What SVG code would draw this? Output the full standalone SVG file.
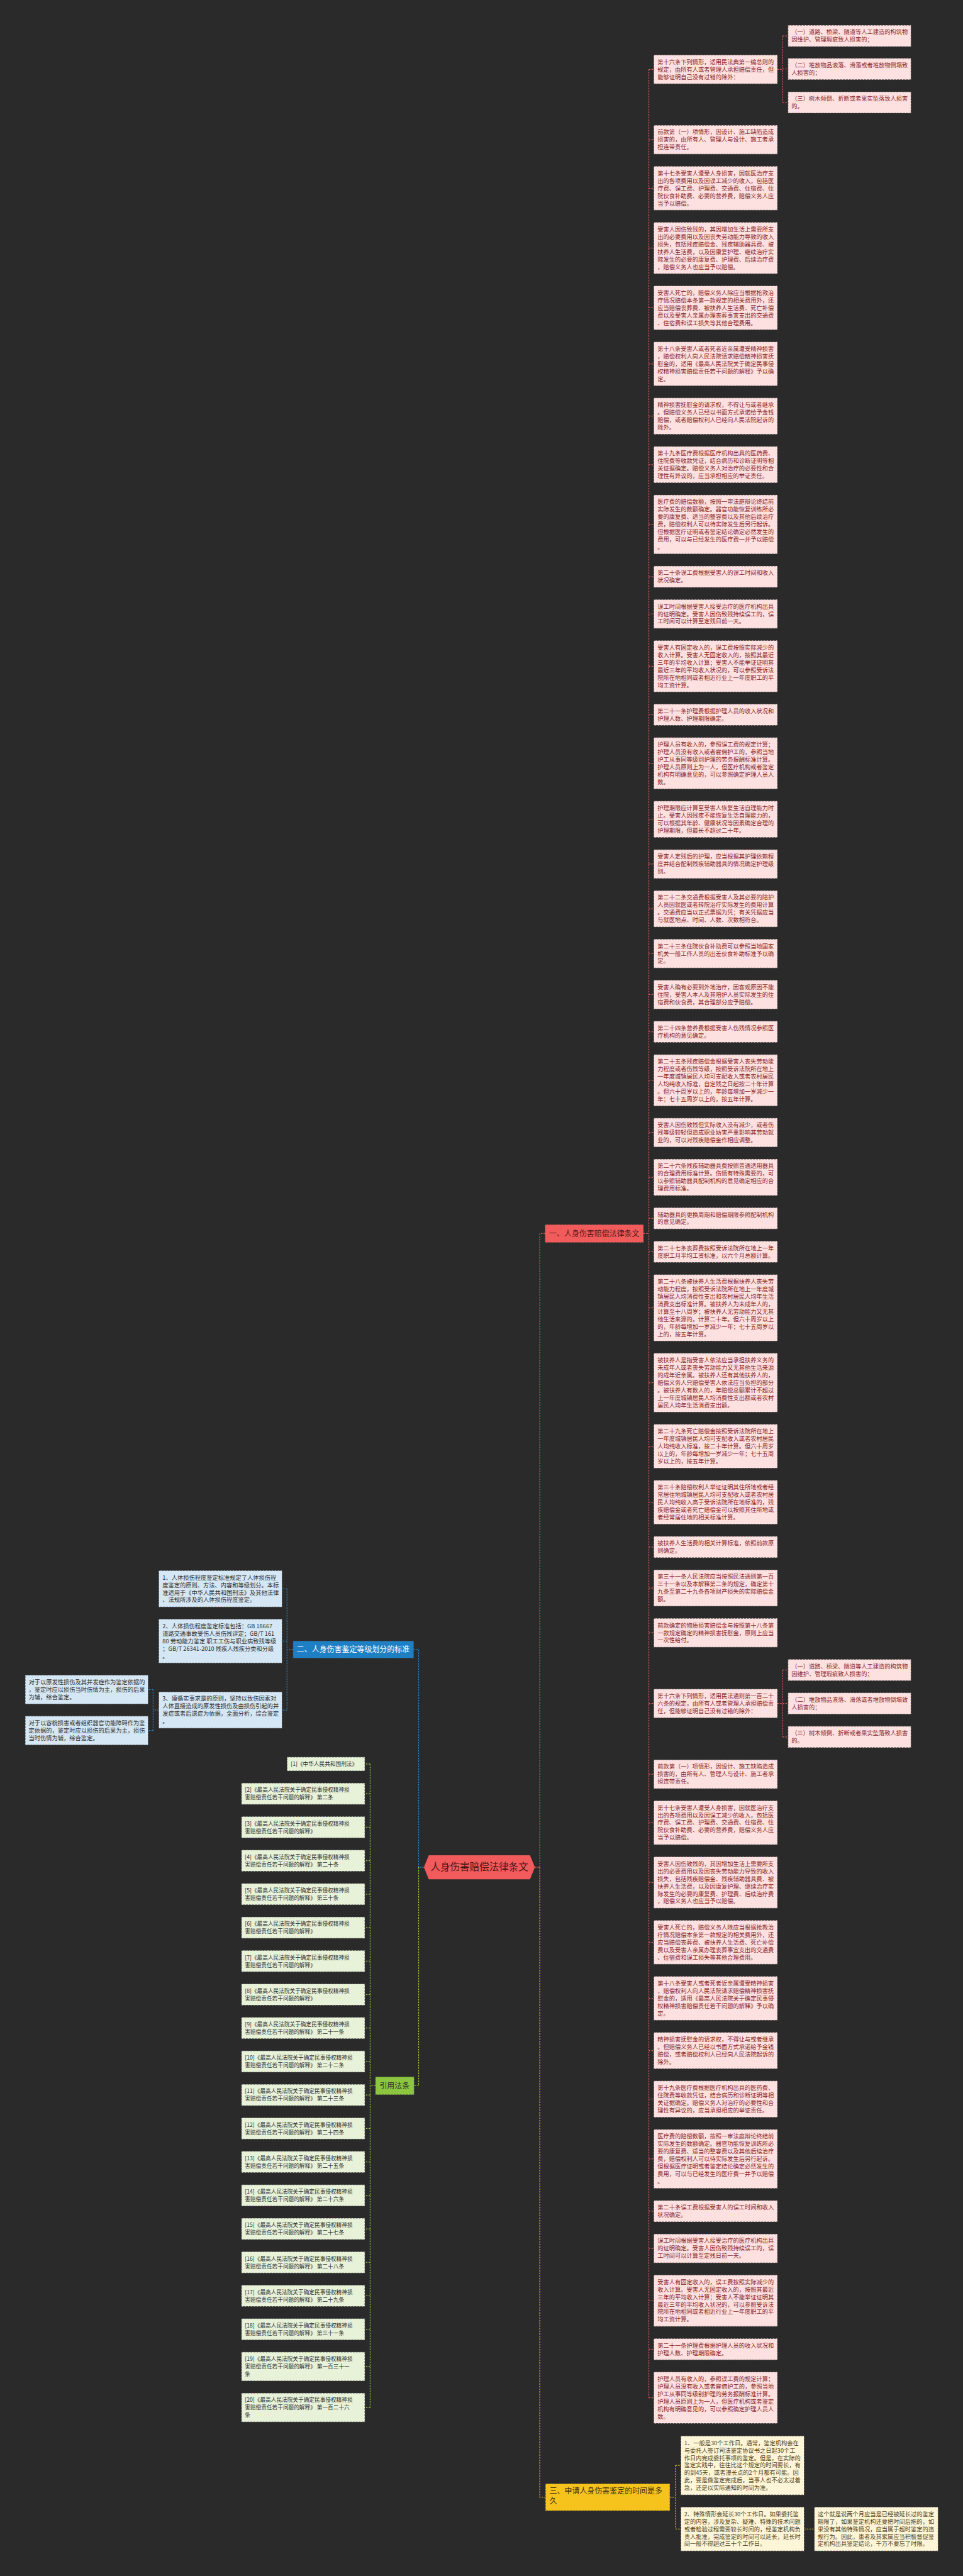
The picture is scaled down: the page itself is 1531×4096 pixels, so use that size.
<svg xmlns="http://www.w3.org/2000/svg" width="1531" height="4096" viewBox="0 0 1531 4096">
<style>
.t{font-family:"Noto Sans CJK SC","Noto Sans",sans-serif}
.bp{fill:#fde1e1;stroke:#3a3a3a;stroke-width:1.5;stroke-dasharray:5 3}
.bb{fill:#d5e7f4;stroke:#3a3a3a;stroke-width:1.5;stroke-dasharray:5 3}
.bg{fill:#e7f2d9;stroke:#3a3a3a;stroke-width:1.5;stroke-dasharray:5 3}
.by{fill:#fdf5d7;stroke:#3a3a3a;stroke-width:1.5;stroke-dasharray:5 3}
.tp{font-size:15.5px;fill:#8a1f1f}
.tb{font-size:15.5px;fill:#2e2e2e}
.tg{font-size:14.5px;fill:#2e2e2e}
.ty{font-size:15.5px;fill:#4e4220}
.c{fill:none;stroke-width:2;stroke-dasharray:4 3}
.cr{stroke:#e05b5b}
.cb{stroke:#2a86c6}
.cg{stroke:#9acd32}
.cy{stroke:#e8c22a}
</style>
<rect x="0" y="0" width="1531" height="4096" fill="#2a2a2a"/>
<g transform="scale(0.598)">
<g id="connectors">
<path class="c cr" d="M1422 4965H1435V3280H1449M1711 3280H1725M1725 184.5V6375.5"/>
<path class="c cr" d="M1725 184.5H1738M1725 371.5H1738M1725 500.5H1738M1725 659.5H1738M1725 818.5H1738M1725 967.5H1738M1725 1106.5H1738M1725 1235.5H1738M1725 1394.5H1738M1725 1533.5H1738M1725 1632.5H1738M1725 1771.5H1738M1725 1900.5H1738M1725 2029.5H1738M1725 2178.5H1738M1725 2297.5H1738M1725 2416.5H1738M1725 2535.5H1738M1725 2644.5H1738M1725 2743.5H1738M1725 2872.5H1738M1725 3011.5H1738M1725 3130.5H1738M1725 3239.5H1738M1725 3328.5H1738M1725 3477.5H1738M1725 3676.5H1738M1725 3845.5H1738M1725 3994.5H1738M1725 4113.5H1738M1725 4222.5H1738M1725 4341.5H1738M1725 4529.5H1738M1725 4717.5H1738M1725 4846.5H1738M1725 5005.5H1738M1725 5164.5H1738M1725 5313.5H1738M1725 5452.5H1738M1725 5581.5H1738M1725 5740.5H1738M1725 5879.5H1738M1725 5978.5H1738M1725 6117.5H1738M1725 6246.5H1738M1725 6375.5H1738"/>
<path class="c cr" d="M2067 184.5H2081M2081 95.5V272.5M2081 95.5H2095M2081 183.5H2095M2081 272.5H2095"/>
<path class="c cr" d="M2067 4529.5H2081M2081 4440.5V4618.5M2081 4440.5H2095M2081 4529.5H2095M2081 4618.5H2095"/>
<path class="c cb" d="M1127 4965H1113V4386H1100M779 4386H763M763 4224.5V4547M763 4224.5H750M763 4363.5H750M763 4547H750M422 4547H407M407 4492.5V4601.5M407 4492.5H394M407 4601.5H394"/>
<path class="c cg" d="M1113 4965V5546H1101M998 5546H984M984 4690.5V6401.5M984 4690.5H970M984 4769.5H970M984 4858.5H970M984 4947.5H970M984 5036.5H970M984 5125.5H970M984 5214.5H970M984 5303.5H970M984 5392.5H970M984 5481.5H970M984 5570.5H970M984 5659.5H970M984 5748.5H970M984 5837.5H970M984 5926.5H970M984 6015.5H970M984 6104.5H970M984 6193.5H970M984 6292.5H970M984 6401.5H970"/>
<path class="c cy" d="M1435 4965V6640H1450M1781 6640H1796M1796 6555.5V6724.5M1796 6555.5H1810M1796 6724.5H1810M2138 6724.5H2165"/>
</g>

<g id="root"><polygon points="1127,4965 1140,4933 1409,4933 1422,4965 1409,4997 1140,4997" fill="#f25b5b"/><text class="t" x="1274.5" y="4974" text-anchor="middle" font-size="26" fill="#4e1515">人身伤害赔偿法律条文</text></g>

<g id="b1"><rect x="1449" y="3256" width="262" height="48" fill="#f25b5b" stroke="#3a3a3a" stroke-width="1.5" stroke-dasharray="5 3"/><text class="t" x="1460" y="3287" font-size="20" fill="#4e1515">一、人身伤害赔偿法律条文</text></g>
<g id="b2"><rect x="779" y="4363" width="321" height="46" fill="#1f7fc4" stroke="#3a3a3a" stroke-width="1.5" stroke-dasharray="5 3"/><text class="t" x="789" y="4393" font-size="20" fill="#ffffff">二、人身伤害鉴定等级划分的标准</text></g>
<g id="b3"><rect x="998" y="5522" width="103" height="48" fill="#8cc63f" stroke="#3a3a3a" stroke-width="1.5" stroke-dasharray="5 3"/><text class="t" x="1009" y="5553" font-size="20" fill="#2e2e2e">引用法条</text></g>
<g id="b4"><rect x="1450" y="6604" width="331" height="72" fill="#f6c21c" stroke="#3a3a3a" stroke-width="1.5" stroke-dasharray="5 3"/><text class="t" font-size="20" fill="#3a3010" y="6631"><tspan x="1461">三、申请人身伤害鉴定的时间是多</tspan><tspan x="1461" dy="27">久</tspan></text></g>

<g id="a01"><rect class="bp" x="1738" y="146" width="329" height="77"/><text class="t tp" y="170"><tspan x="1748">第十六条下列情形，适用民法典第一编总则的</tspan><tspan x="1748" dy="20">规定，由所有人或者管理人承担赔偿责任，但</tspan><tspan x="1748" dy="20">能够证明自己没有过错的除外：</tspan></text></g>
<g id="a01s1"><rect class="bp" x="2095" y="67" width="327" height="57"/><text class="t tp" y="91"><tspan x="2104">（一）道路、桥梁、隧道等人工建造的构筑物</tspan><tspan x="2104" dy="20">因维护、管理瑕疵致人损害的；</tspan></text></g>
<g id="a01s2"><rect class="bp" x="2095" y="155" width="327" height="57"/><text class="t tp" y="179"><tspan x="2104">（二）堆放物品滚落、滑落或者堆放物倒塌致</tspan><tspan x="2104" dy="20">人损害的；</tspan></text></g>
<g id="a01s3"><rect class="bp" x="2095" y="244" width="327" height="57"/><text class="t tp" y="268"><tspan x="2104">（三）树木倾倒、折断或者果实坠落致人损害</tspan><tspan x="2104" dy="20">的。</tspan></text></g>
<g id="a02"><rect class="bp" x="1738" y="333" width="329" height="77"/><text class="t tp" y="357"><tspan x="1748">前款第（一）项情形，因设计、施工缺陷造成</tspan><tspan x="1748" dy="20">损害的，由所有人、管理人与设计、施工者承</tspan><tspan x="1748" dy="20">担连带责任。</tspan></text></g>
<g id="a03"><rect class="bp" x="1738" y="442" width="329" height="117"/><text class="t tp" y="466"><tspan x="1748">第十七条受害人遭受人身损害，因就医治疗支</tspan><tspan x="1748" dy="20">出的各项费用以及因误工减少的收入，包括医</tspan><tspan x="1748" dy="20">疗费、误工费、护理费、交通费、住宿费、住</tspan><tspan x="1748" dy="20">院伙食补助费、必要的营养费，赔偿义务人应</tspan><tspan x="1748" dy="20">当予以赔偿。</tspan></text></g>
<g id="a04"><rect class="bp" x="1738" y="591" width="329" height="137"/><text class="t tp" y="615"><tspan x="1748">受害人因伤致残的，其因增加生活上需要所支</tspan><tspan x="1748" dy="20">出的必要费用以及因丧失劳动能力导致的收入</tspan><tspan x="1748" dy="20">损失，包括残疾赔偿金、残疾辅助器具费、被</tspan><tspan x="1748" dy="20">扶养人生活费，以及因康复护理、继续治疗实</tspan><tspan x="1748" dy="20">际发生的必要的康复费、护理费、后续治疗费</tspan><tspan x="1748" dy="20">，赔偿义务人也应当予以赔偿。</tspan></text></g>
<g id="a05"><rect class="bp" x="1738" y="760" width="329" height="117"/><text class="t tp" y="784"><tspan x="1748">受害人死亡的，赔偿义务人除应当根据抢救治</tspan><tspan x="1748" dy="20">疗情况赔偿本条第一款规定的相关费用外，还</tspan><tspan x="1748" dy="20">应当赔偿丧葬费、被扶养人生活费、死亡补偿</tspan><tspan x="1748" dy="20">费以及受害人亲属办理丧葬事宜支出的交通费</tspan><tspan x="1748" dy="20">、住宿费和误工损失等其他合理费用。</tspan></text></g>
<g id="a06"><rect class="bp" x="1738" y="909" width="329" height="117"/><text class="t tp" y="933"><tspan x="1748">第十八条受害人或者死者近亲属遭受精神损害</tspan><tspan x="1748" dy="20">，赔偿权利人向人民法院请求赔偿精神损害抚</tspan><tspan x="1748" dy="20">慰金的，适用《最高人民法院关于确定民事侵</tspan><tspan x="1748" dy="20">权精神损害赔偿责任若干问题的解释》予以确</tspan><tspan x="1748" dy="20">定。</tspan></text></g>
<g id="a07"><rect class="bp" x="1738" y="1058" width="329" height="97"/><text class="t tp" y="1082"><tspan x="1748">精神损害抚慰金的请求权，不得让与或者继承</tspan><tspan x="1748" dy="20">。但赔偿义务人已经以书面方式承诺给予金钱</tspan><tspan x="1748" dy="20">赔偿，或者赔偿权利人已经向人民法院起诉的</tspan><tspan x="1748" dy="20">除外。</tspan></text></g>
<g id="a08"><rect class="bp" x="1738" y="1187" width="329" height="97"/><text class="t tp" y="1211"><tspan x="1748">第十九条医疗费根据医疗机构出具的医药费、</tspan><tspan x="1748" dy="20">住院费等收款凭证，结合病历和诊断证明等相</tspan><tspan x="1748" dy="20">关证据确定。赔偿义务人对治疗的必要性和合</tspan><tspan x="1748" dy="20">理性有异议的，应当承担相应的举证责任。</tspan></text></g>
<g id="a09"><rect class="bp" x="1738" y="1316" width="329" height="157"/><text class="t tp" y="1340"><tspan x="1748">医疗费的赔偿数额，按照一审法庭辩论终结前</tspan><tspan x="1748" dy="20">实际发生的数额确定。器官功能恢复训练所必</tspan><tspan x="1748" dy="20">要的康复费、适当的整容费以及其他后续治疗</tspan><tspan x="1748" dy="20">费，赔偿权利人可以待实际发生后另行起诉。</tspan><tspan x="1748" dy="20">但根据医疗证明或者鉴定结论确定必然发生的</tspan><tspan x="1748" dy="20">费用，可以与已经发生的医疗费一并予以赔偿</tspan><tspan x="1748" dy="20">。</tspan></text></g>
<g id="a10"><rect class="bp" x="1738" y="1505" width="329" height="57"/><text class="t tp" y="1529"><tspan x="1748">第二十条误工费根据受害人的误工时间和收入</tspan><tspan x="1748" dy="20">状况确定。</tspan></text></g>
<g id="a11"><rect class="bp" x="1738" y="1594" width="329" height="77"/><text class="t tp" y="1618"><tspan x="1748">误工时间根据受害人接受治疗的医疗机构出具</tspan><tspan x="1748" dy="20">的证明确定。受害人因伤致残持续误工的，误</tspan><tspan x="1748" dy="20">工时间可以计算至定残日前一天。</tspan></text></g>
<g id="a12"><rect class="bp" x="1738" y="1703" width="329" height="137"/><text class="t tp" y="1727"><tspan x="1748">受害人有固定收入的，误工费按照实际减少的</tspan><tspan x="1748" dy="20">收入计算。受害人无固定收入的，按照其最近</tspan><tspan x="1748" dy="20">三年的平均收入计算；受害人不能举证证明其</tspan><tspan x="1748" dy="20">最近三年的平均收入状况的，可以参照受诉法</tspan><tspan x="1748" dy="20">院所在地相同或者相近行业上一年度职工的平</tspan><tspan x="1748" dy="20">均工资计算。</tspan></text></g>
<g id="a13"><rect class="bp" x="1738" y="1872" width="329" height="57"/><text class="t tp" y="1896"><tspan x="1748">第二十一条护理费根据护理人员的收入状况和</tspan><tspan x="1748" dy="20">护理人数、护理期限确定。</tspan></text></g>
<g id="a14"><rect class="bp" x="1738" y="1961" width="329" height="137"/><text class="t tp" y="1985"><tspan x="1748">护理人员有收入的，参照误工费的规定计算；</tspan><tspan x="1748" dy="20">护理人员没有收入或者雇佣护工的，参照当地</tspan><tspan x="1748" dy="20">护工从事同等级别护理的劳务报酬标准计算。</tspan><tspan x="1748" dy="20">护理人员原则上为一人，但医疗机构或者鉴定</tspan><tspan x="1748" dy="20">机构有明确意见的，可以参照确定护理人员人</tspan><tspan x="1748" dy="20">数。</tspan></text></g>
<g id="a15"><rect class="bp" x="1738" y="2130" width="329" height="97"/><text class="t tp" y="2154"><tspan x="1748">护理期限应计算至受害人恢复生活自理能力时</tspan><tspan x="1748" dy="20">止。受害人因残疾不能恢复生活自理能力的，</tspan><tspan x="1748" dy="20">可以根据其年龄、健康状况等因素确定合理的</tspan><tspan x="1748" dy="20">护理期限，但最长不超过二十年。</tspan></text></g>
<g id="a16"><rect class="bp" x="1738" y="2259" width="329" height="77"/><text class="t tp" y="2283"><tspan x="1748">受害人定残后的护理，应当根据其护理依赖程</tspan><tspan x="1748" dy="20">度并结合配制残疾辅助器具的情况确定护理级</tspan><tspan x="1748" dy="20">别。</tspan></text></g>
<g id="a17"><rect class="bp" x="1738" y="2368" width="329" height="97"/><text class="t tp" y="2392"><tspan x="1748">第二十二条交通费根据受害人及其必要的陪护</tspan><tspan x="1748" dy="20">人员因就医或者转院治疗实际发生的费用计算</tspan><tspan x="1748" dy="20">。交通费应当以正式票据为凭；有关凭据应当</tspan><tspan x="1748" dy="20">与就医地点、时间、人数、次数相符合。</tspan></text></g>
<g id="a18"><rect class="bp" x="1738" y="2497" width="329" height="77"/><text class="t tp" y="2521"><tspan x="1748">第二十三条住院伙食补助费可以参照当地国家</tspan><tspan x="1748" dy="20">机关一般工作人员的出差伙食补助标准予以确</tspan><tspan x="1748" dy="20">定。</tspan></text></g>
<g id="a19"><rect class="bp" x="1738" y="2606" width="329" height="77"/><text class="t tp" y="2630"><tspan x="1748">受害人确有必要到外地治疗，因客观原因不能</tspan><tspan x="1748" dy="20">住院，受害人本人及其陪护人员实际发生的住</tspan><tspan x="1748" dy="20">宿费和伙食费，其合理部分应予赔偿。</tspan></text></g>
<g id="a20"><rect class="bp" x="1738" y="2715" width="329" height="57"/><text class="t tp" y="2739"><tspan x="1748">第二十四条营养费根据受害人伤残情况参照医</tspan><tspan x="1748" dy="20">疗机构的意见确定。</tspan></text></g>
<g id="a21"><rect class="bp" x="1738" y="2804" width="329" height="137"/><text class="t tp" y="2828"><tspan x="1748">第二十五条残疾赔偿金根据受害人丧失劳动能</tspan><tspan x="1748" dy="20">力程度或者伤残等级，按照受诉法院所在地上</tspan><tspan x="1748" dy="20">一年度城镇居民人均可支配收入或者农村居民</tspan><tspan x="1748" dy="20">人均纯收入标准，自定残之日起按二十年计算</tspan><tspan x="1748" dy="20">。但六十周岁以上的，年龄每增加一岁减少一</tspan><tspan x="1748" dy="20">年；七十五周岁以上的，按五年计算。</tspan></text></g>
<g id="a22"><rect class="bp" x="1738" y="2973" width="329" height="77"/><text class="t tp" y="2997"><tspan x="1748">受害人因伤致残但实际收入没有减少，或者伤</tspan><tspan x="1748" dy="20">残等级较轻但造成职业妨害严重影响其劳动就</tspan><tspan x="1748" dy="20">业的，可以对残疾赔偿金作相应调整。</tspan></text></g>
<g id="a23"><rect class="bp" x="1738" y="3082" width="329" height="97"/><text class="t tp" y="3106"><tspan x="1748">第二十六条残疾辅助器具费按照普通适用器具</tspan><tspan x="1748" dy="20">的合理费用标准计算。伤情有特殊需要的，可</tspan><tspan x="1748" dy="20">以参照辅助器具配制机构的意见确定相应的合</tspan><tspan x="1748" dy="20">理费用标准。</tspan></text></g>
<g id="a24"><rect class="bp" x="1738" y="3211" width="329" height="57"/><text class="t tp" y="3235"><tspan x="1748">辅助器具的更换周期和赔偿期限参照配制机构</tspan><tspan x="1748" dy="20">的意见确定。</tspan></text></g>
<g id="a25"><rect class="bp" x="1738" y="3300" width="329" height="57"/><text class="t tp" y="3324"><tspan x="1748">第二十七条丧葬费按照受诉法院所在地上一年</tspan><tspan x="1748" dy="20">度职工月平均工资标准，以六个月总额计算。</tspan></text></g>
<g id="a26"><rect class="bp" x="1738" y="3389" width="329" height="177"/><text class="t tp" y="3413"><tspan x="1748">第二十八条被扶养人生活费根据扶养人丧失劳</tspan><tspan x="1748" dy="20">动能力程度，按照受诉法院所在地上一年度城</tspan><tspan x="1748" dy="20">镇居民人均消费性支出和农村居民人均年生活</tspan><tspan x="1748" dy="20">消费支出标准计算。被扶养人为未成年人的，</tspan><tspan x="1748" dy="20">计算至十八周岁；被扶养人无劳动能力又无其</tspan><tspan x="1748" dy="20">他生活来源的，计算二十年。但六十周岁以上</tspan><tspan x="1748" dy="20">的，年龄每增加一岁减少一年；七十五周岁以</tspan><tspan x="1748" dy="20">上的，按五年计算。</tspan></text></g>
<g id="a27"><rect class="bp" x="1738" y="3598" width="329" height="157"/><text class="t tp" y="3622"><tspan x="1748">被扶养人是指受害人依法应当承担扶养义务的</tspan><tspan x="1748" dy="20">未成年人或者丧失劳动能力又无其他生活来源</tspan><tspan x="1748" dy="20">的成年近亲属。被扶养人还有其他扶养人的，</tspan><tspan x="1748" dy="20">赔偿义务人只赔偿受害人依法应当负担的部分</tspan><tspan x="1748" dy="20">。被扶养人有数人的，年赔偿总额累计不超过</tspan><tspan x="1748" dy="20">上一年度城镇居民人均消费性支出额或者农村</tspan><tspan x="1748" dy="20">居民人均年生活消费支出额。</tspan></text></g>
<g id="a28"><rect class="bp" x="1738" y="3787" width="329" height="117"/><text class="t tp" y="3811"><tspan x="1748">第二十九条死亡赔偿金按照受诉法院所在地上</tspan><tspan x="1748" dy="20">一年度城镇居民人均可支配收入或者农村居民</tspan><tspan x="1748" dy="20">人均纯收入标准，按二十年计算。但六十周岁</tspan><tspan x="1748" dy="20">以上的，年龄每增加一岁减少一年；七十五周</tspan><tspan x="1748" dy="20">岁以上的，按五年计算。</tspan></text></g>
<g id="a29"><rect class="bp" x="1738" y="3936" width="329" height="117"/><text class="t tp" y="3960"><tspan x="1748">第三十条赔偿权利人举证证明其住所地或者经</tspan><tspan x="1748" dy="20">常居住地城镇居民人均可支配收入或者农村居</tspan><tspan x="1748" dy="20">民人均纯收入高于受诉法院所在地标准的，残</tspan><tspan x="1748" dy="20">疾赔偿金或者死亡赔偿金可以按照其住所地或</tspan><tspan x="1748" dy="20">者经常居住地的相关标准计算。</tspan></text></g>
<g id="a30"><rect class="bp" x="1738" y="4085" width="329" height="57"/><text class="t tp" y="4109"><tspan x="1748">被扶养人生活费的相关计算标准，依照前款原</tspan><tspan x="1748" dy="20">则确定。</tspan></text></g>
<g id="a31"><rect class="bp" x="1738" y="4174" width="329" height="97"/><text class="t tp" y="4198"><tspan x="1748">第三十一条人民法院应当按照民法通则第一百</tspan><tspan x="1748" dy="20">三十一条以及本解释第二条的规定，确定第十</tspan><tspan x="1748" dy="20">九条至第二十九条各项财产损失的实际赔偿金</tspan><tspan x="1748" dy="20">额。</tspan></text></g>
<g id="a32"><rect class="bp" x="1738" y="4303" width="329" height="77"/><text class="t tp" y="4327"><tspan x="1748">前款确定的物质损害赔偿金与按照第十八条第</tspan><tspan x="1748" dy="20">一款规定确定的精神损害抚慰金，原则上应当</tspan><tspan x="1748" dy="20">一次性给付。</tspan></text></g>

<g id="b01"><rect class="bp" x="1738" y="4491" width="329" height="77"/><text class="t tp" y="4515"><tspan x="1748">第十六条下列情形，适用民法通则第一百二十</tspan><tspan x="1748" dy="20">六条的规定，由所有人或者管理人承担赔偿责</tspan><tspan x="1748" dy="20">任，但能够证明自己没有过错的除外：</tspan></text></g>
<g id="b01s1"><rect class="bp" x="2095" y="4412" width="327" height="57"/><text class="t tp" y="4436"><tspan x="2104">（一）道路、桥梁、隧道等人工建造的构筑物</tspan><tspan x="2104" dy="20">因维护、管理瑕疵致人损害的；</tspan></text></g>
<g id="b01s2"><rect class="bp" x="2095" y="4501" width="327" height="57"/><text class="t tp" y="4525"><tspan x="2104">（二）堆放物品滚落、滑落或者堆放物倒塌致</tspan><tspan x="2104" dy="20">人损害的；</tspan></text></g>
<g id="b01s3"><rect class="bp" x="2095" y="4590" width="327" height="57"/><text class="t tp" y="4614"><tspan x="2104">（三）树木倾倒、折断或者果实坠落致人损害</tspan><tspan x="2104" dy="20">的。</tspan></text></g>
<g id="b02"><rect class="bp" x="1738" y="4679" width="329" height="77"/><text class="t tp" y="4703"><tspan x="1748">前款第（一）项情形，因设计、施工缺陷造成</tspan><tspan x="1748" dy="20">损害的，由所有人、管理人与设计、施工者承</tspan><tspan x="1748" dy="20">担连带责任。</tspan></text></g>
<g id="b03"><rect class="bp" x="1738" y="4788" width="329" height="117"/><text class="t tp" y="4812"><tspan x="1748">第十七条受害人遭受人身损害，因就医治疗支</tspan><tspan x="1748" dy="20">出的各项费用以及因误工减少的收入，包括医</tspan><tspan x="1748" dy="20">疗费、误工费、护理费、交通费、住宿费、住</tspan><tspan x="1748" dy="20">院伙食补助费、必要的营养费，赔偿义务人应</tspan><tspan x="1748" dy="20">当予以赔偿。</tspan></text></g>
<g id="b04"><rect class="bp" x="1738" y="4937" width="329" height="137"/><text class="t tp" y="4961"><tspan x="1748">受害人因伤致残的，其因增加生活上需要所支</tspan><tspan x="1748" dy="20">出的必要费用以及因丧失劳动能力导致的收入</tspan><tspan x="1748" dy="20">损失，包括残疾赔偿金、残疾辅助器具费、被</tspan><tspan x="1748" dy="20">扶养人生活费，以及因康复护理、继续治疗实</tspan><tspan x="1748" dy="20">际发生的必要的康复费、护理费、后续治疗费</tspan><tspan x="1748" dy="20">，赔偿义务人也应当予以赔偿。</tspan></text></g>
<g id="b05"><rect class="bp" x="1738" y="5106" width="329" height="117"/><text class="t tp" y="5130"><tspan x="1748">受害人死亡的，赔偿义务人除应当根据抢救治</tspan><tspan x="1748" dy="20">疗情况赔偿本条第一款规定的相关费用外，还</tspan><tspan x="1748" dy="20">应当赔偿丧葬费、被扶养人生活费、死亡补偿</tspan><tspan x="1748" dy="20">费以及受害人亲属办理丧葬事宜支出的交通费</tspan><tspan x="1748" dy="20">、住宿费和误工损失等其他合理费用。</tspan></text></g>
<g id="b06"><rect class="bp" x="1738" y="5255" width="329" height="117"/><text class="t tp" y="5279"><tspan x="1748">第十八条受害人或者死者近亲属遭受精神损害</tspan><tspan x="1748" dy="20">，赔偿权利人向人民法院请求赔偿精神损害抚</tspan><tspan x="1748" dy="20">慰金的，适用《最高人民法院关于确定民事侵</tspan><tspan x="1748" dy="20">权精神损害赔偿责任若干问题的解释》予以确</tspan><tspan x="1748" dy="20">定。</tspan></text></g>
<g id="b07"><rect class="bp" x="1738" y="5404" width="329" height="97"/><text class="t tp" y="5428"><tspan x="1748">精神损害抚慰金的请求权，不得让与或者继承</tspan><tspan x="1748" dy="20">。但赔偿义务人已经以书面方式承诺给予金钱</tspan><tspan x="1748" dy="20">赔偿，或者赔偿权利人已经向人民法院起诉的</tspan><tspan x="1748" dy="20">除外。</tspan></text></g>
<g id="b08"><rect class="bp" x="1738" y="5533" width="329" height="97"/><text class="t tp" y="5557"><tspan x="1748">第十九条医疗费根据医疗机构出具的医药费、</tspan><tspan x="1748" dy="20">住院费等收款凭证，结合病历和诊断证明等相</tspan><tspan x="1748" dy="20">关证据确定。赔偿义务人对治疗的必要性和合</tspan><tspan x="1748" dy="20">理性有异议的，应当承担相应的举证责任。</tspan></text></g>
<g id="b09"><rect class="bp" x="1738" y="5662" width="329" height="157"/><text class="t tp" y="5686"><tspan x="1748">医疗费的赔偿数额，按照一审法庭辩论终结前</tspan><tspan x="1748" dy="20">实际发生的数额确定。器官功能恢复训练所必</tspan><tspan x="1748" dy="20">要的康复费、适当的整容费以及其他后续治疗</tspan><tspan x="1748" dy="20">费，赔偿权利人可以待实际发生后另行起诉。</tspan><tspan x="1748" dy="20">但根据医疗证明或者鉴定结论确定必然发生的</tspan><tspan x="1748" dy="20">费用，可以与已经发生的医疗费一并予以赔偿</tspan><tspan x="1748" dy="20">。</tspan></text></g>
<g id="b10"><rect class="bp" x="1738" y="5851" width="329" height="57"/><text class="t tp" y="5875"><tspan x="1748">第二十条误工费根据受害人的误工时间和收入</tspan><tspan x="1748" dy="20">状况确定。</tspan></text></g>
<g id="b11"><rect class="bp" x="1738" y="5940" width="329" height="77"/><text class="t tp" y="5964"><tspan x="1748">误工时间根据受害人接受治疗的医疗机构出具</tspan><tspan x="1748" dy="20">的证明确定。受害人因伤致残持续误工的，误</tspan><tspan x="1748" dy="20">工时间可以计算至定残日前一天。</tspan></text></g>
<g id="b12"><rect class="bp" x="1738" y="6049" width="329" height="137"/><text class="t tp" y="6073"><tspan x="1748">受害人有固定收入的，误工费按照实际减少的</tspan><tspan x="1748" dy="20">收入计算。受害人无固定收入的，按照其最近</tspan><tspan x="1748" dy="20">三年的平均收入计算；受害人不能举证证明其</tspan><tspan x="1748" dy="20">最近三年的平均收入状况的，可以参照受诉法</tspan><tspan x="1748" dy="20">院所在地相同或者相近行业上一年度职工的平</tspan><tspan x="1748" dy="20">均工资计算。</tspan></text></g>
<g id="b13"><rect class="bp" x="1738" y="6218" width="329" height="57"/><text class="t tp" y="6242"><tspan x="1748">第二十一条护理费根据护理人员的收入状况和</tspan><tspan x="1748" dy="20">护理人数、护理期限确定。</tspan></text></g>
<g id="b14"><rect class="bp" x="1738" y="6307" width="329" height="137"/><text class="t tp" y="6331"><tspan x="1748">护理人员有收入的，参照误工费的规定计算；</tspan><tspan x="1748" dy="20">护理人员没有收入或者雇佣护工的，参照当地</tspan><tspan x="1748" dy="20">护工从事同等级别护理的劳务报酬标准计算。</tspan><tspan x="1748" dy="20">护理人员原则上为一人，但医疗机构或者鉴定</tspan><tspan x="1748" dy="20">机构有明确意见的，可以参照确定护理人员人</tspan><tspan x="1748" dy="20">数。</tspan></text></g>

<g id="c01"><rect class="bb" x="422" y="4176" width="328" height="97"/><text class="t tb" y="4200"><tspan x="432">1、人体损伤程度鉴定标准规定了人体损伤程</tspan><tspan x="432" dy="20">度鉴定的原则、方法、内容和等级划分。本标</tspan><tspan x="432" dy="20">准适用于《中华人民共和国刑法》及其他法律</tspan><tspan x="432" dy="20">、法规所涉及的人体损伤程度鉴定。</tspan></text></g>
<g id="c02"><rect class="bb" x="422" y="4305" width="328" height="117"/><text class="t tb" y="4329"><tspan x="432">2、人体损伤程度鉴定标准包括：GB 18667</tspan><tspan x="432" dy="20">道路交通事故受伤人员伤残评定；GB/T 161</tspan><tspan x="432" dy="20">80 劳动能力鉴定 职工工伤与职业病致残等级</tspan><tspan x="432" dy="20">；GB/T 26341-2010 残疾人残疾分类和分级</tspan><tspan x="432" dy="20">。</tspan></text></g>
<g id="c03"><rect class="bb" x="422" y="4498.5" width="328" height="97"/><text class="t tb" y="4522.5"><tspan x="432">3、遵循实事求是的原则，坚持以致伤因素对</tspan><tspan x="432" dy="20">人体直接造成的原发性损伤及由损伤引起的并</tspan><tspan x="432" dy="20">发症或者后遗症为依据，全面分析，综合鉴定</tspan><tspan x="432" dy="20">。</tspan></text></g>
<g id="c03a"><rect class="bb" x="67" y="4454" width="327" height="77"/><text class="t tb" y="4478"><tspan x="76">对于以原发性损伤及其并发症作为鉴定依据的</tspan><tspan x="76" dy="20">，鉴定时应以损伤当时伤情为主，损伤的后果</tspan><tspan x="76" dy="20">为辅，综合鉴定。</tspan></text></g>
<g id="c03b"><rect class="bb" x="67" y="4563" width="327" height="77"/><text class="t tb" y="4587"><tspan x="76">对于以容貌损害或者组织器官功能障碍作为鉴</tspan><tspan x="76" dy="20">定依据的，鉴定时应以损伤的后果为主，损伤</tspan><tspan x="76" dy="20">当时伤情为辅，综合鉴定。</tspan></text></g>

<g id="r01"><rect class="bg" x="763" y="4672" width="207" height="37"/><text class="t tg" x="773" y="4695">[1]《中华人民共和国刑法》</text></g>
<g id="r02"><rect class="bg" x="642" y="4741" width="328" height="57"/><text class="t tg" y="4765"><tspan x="651">[2]《最高人民法院关于确定民事侵权精神损</tspan><tspan x="651" dy="20">害赔偿责任若干问题的解释》 第二条</tspan></text></g>
<g id="r03"><rect class="bg" x="642" y="4830" width="328" height="57"/><text class="t tg" y="4854"><tspan x="651">[3]《最高人民法院关于确定民事侵权精神损</tspan><tspan x="651" dy="20">害赔偿责任若干问题的解释》</tspan></text></g>
<g id="r04"><rect class="bg" x="642" y="4919" width="328" height="57"/><text class="t tg" y="4943"><tspan x="651">[4]《最高人民法院关于确定民事侵权精神损</tspan><tspan x="651" dy="20">害赔偿责任若干问题的解释》 第二十条</tspan></text></g>
<g id="r05"><rect class="bg" x="642" y="5008" width="328" height="57"/><text class="t tg" y="5032"><tspan x="651">[5]《最高人民法院关于确定民事侵权精神损</tspan><tspan x="651" dy="20">害赔偿责任若干问题的解释》 第三十条</tspan></text></g>
<g id="r06"><rect class="bg" x="642" y="5097" width="328" height="57"/><text class="t tg" y="5121"><tspan x="651">[6]《最高人民法院关于确定民事侵权精神损</tspan><tspan x="651" dy="20">害赔偿责任若干问题的解释》</tspan></text></g>
<g id="r07"><rect class="bg" x="642" y="5186" width="328" height="57"/><text class="t tg" y="5210"><tspan x="651">[7]《最高人民法院关于确定民事侵权精神损</tspan><tspan x="651" dy="20">害赔偿责任若干问题的解释》</tspan></text></g>
<g id="r08"><rect class="bg" x="642" y="5275" width="328" height="57"/><text class="t tg" y="5299"><tspan x="651">[8]《最高人民法院关于确定民事侵权精神损</tspan><tspan x="651" dy="20">害赔偿责任若干问题的解释》</tspan></text></g>
<g id="r09"><rect class="bg" x="642" y="5364" width="328" height="57"/><text class="t tg" y="5388"><tspan x="651">[9]《最高人民法院关于确定民事侵权精神损</tspan><tspan x="651" dy="20">害赔偿责任若干问题的解释》 第二十一条</tspan></text></g>
<g id="r10"><rect class="bg" x="642" y="5453" width="328" height="57"/><text class="t tg" y="5477"><tspan x="651">[10]《最高人民法院关于确定民事侵权精神损</tspan><tspan x="651" dy="20">害赔偿责任若干问题的解释》 第二十二条</tspan></text></g>
<g id="r11"><rect class="bg" x="642" y="5542" width="328" height="57"/><text class="t tg" y="5566"><tspan x="651">[11]《最高人民法院关于确定民事侵权精神损</tspan><tspan x="651" dy="20">害赔偿责任若干问题的解释》 第二十三条</tspan></text></g>
<g id="r12"><rect class="bg" x="642" y="5631" width="328" height="57"/><text class="t tg" y="5655"><tspan x="651">[12]《最高人民法院关于确定民事侵权精神损</tspan><tspan x="651" dy="20">害赔偿责任若干问题的解释》 第二十四条</tspan></text></g>
<g id="r13"><rect class="bg" x="642" y="5720" width="328" height="57"/><text class="t tg" y="5744"><tspan x="651">[13]《最高人民法院关于确定民事侵权精神损</tspan><tspan x="651" dy="20">害赔偿责任若干问题的解释》 第二十五条</tspan></text></g>
<g id="r14"><rect class="bg" x="642" y="5809" width="328" height="57"/><text class="t tg" y="5833"><tspan x="651">[14]《最高人民法院关于确定民事侵权精神损</tspan><tspan x="651" dy="20">害赔偿责任若干问题的解释》 第二十六条</tspan></text></g>
<g id="r15"><rect class="bg" x="642" y="5898" width="328" height="57"/><text class="t tg" y="5922"><tspan x="651">[15]《最高人民法院关于确定民事侵权精神损</tspan><tspan x="651" dy="20">害赔偿责任若干问题的解释》 第二十七条</tspan></text></g>
<g id="r16"><rect class="bg" x="642" y="5987" width="328" height="57"/><text class="t tg" y="6011"><tspan x="651">[16]《最高人民法院关于确定民事侵权精神损</tspan><tspan x="651" dy="20">害赔偿责任若干问题的解释》 第二十八条</tspan></text></g>
<g id="r17"><rect class="bg" x="642" y="6076" width="328" height="57"/><text class="t tg" y="6100"><tspan x="651">[17]《最高人民法院关于确定民事侵权精神损</tspan><tspan x="651" dy="20">害赔偿责任若干问题的解释》 第二十九条</tspan></text></g>
<g id="r18"><rect class="bg" x="642" y="6165" width="328" height="57"/><text class="t tg" y="6189"><tspan x="651">[18]《最高人民法院关于确定民事侵权精神损</tspan><tspan x="651" dy="20">害赔偿责任若干问题的解释》 第三十一条</tspan></text></g>
<g id="r19"><rect class="bg" x="642" y="6254" width="328" height="77"/><text class="t tg" y="6278"><tspan x="651">[19]《最高人民法院关于确定民事侵权精神损</tspan><tspan x="651" dy="20">害赔偿责任若干问题的解释》 第一百三十一</tspan><tspan x="651" dy="20">条</tspan></text></g>
<g id="r20"><rect class="bg" x="642" y="6363" width="328" height="77"/><text class="t tg" y="6387"><tspan x="651">[20]《最高人民法院关于确定民事侵权精神损</tspan><tspan x="651" dy="20">害赔偿责任若干问题的解释》 第一百二十六</tspan><tspan x="651" dy="20">条</tspan></text></g>

<g id="d01"><rect class="by" x="1810" y="6477" width="328" height="157"/><text class="t ty" y="6501"><tspan x="1819">1、一般是30个工作日。通常，鉴定机构会在</tspan><tspan x="1819" dy="20">与委托人签订司法鉴定协议书之日起30个工</tspan><tspan x="1819" dy="20">作日内完成委托事项的鉴定。但是，在实际的</tspan><tspan x="1819" dy="20">鉴定实践中，往往比这个规定的时间要长，有</tspan><tspan x="1819" dy="20">的到45天，或者漫长点的2个月都有可能。因</tspan><tspan x="1819" dy="20">此，要是做鉴定完成后，当事人也不必太过着</tspan><tspan x="1819" dy="20">急，还是以实际通知的时间为准。</tspan></text></g>
<g id="d02"><rect class="by" x="1810" y="6666" width="328" height="117"/><text class="t ty" y="6690"><tspan x="1819">2、特殊情形会延长30个工作日。如果委托鉴</tspan><tspan x="1819" dy="20">定的内容，涉及复杂、疑难、特殊的技术问题</tspan><tspan x="1819" dy="20">或者检验过程需要较长时间的，经鉴定机构负</tspan><tspan x="1819" dy="20">责人批准，完成鉴定的时间可以延长，延长时</tspan><tspan x="1819" dy="20">间一般不得超过三十个工作日。</tspan></text></g>
<g id="d02a"><rect class="by" x="2165" y="6666" width="329" height="117"/><text class="t ty" y="6690"><tspan x="2174">这个就是说两个月应当是已经被延长过的鉴定</tspan><tspan x="2174" dy="20">期限了，如果鉴定机构还要把时间后拖的，如</tspan><tspan x="2174" dy="20">果没有其他特殊情况，应当属于超时鉴定的违</tspan><tspan x="2174" dy="20">规行为。因此，患者及其家属应当积极督促鉴</tspan><tspan x="2174" dy="20">定机构出具鉴定结论，千万不要忘了时限。</tspan></text></g>
</g>
</svg>
